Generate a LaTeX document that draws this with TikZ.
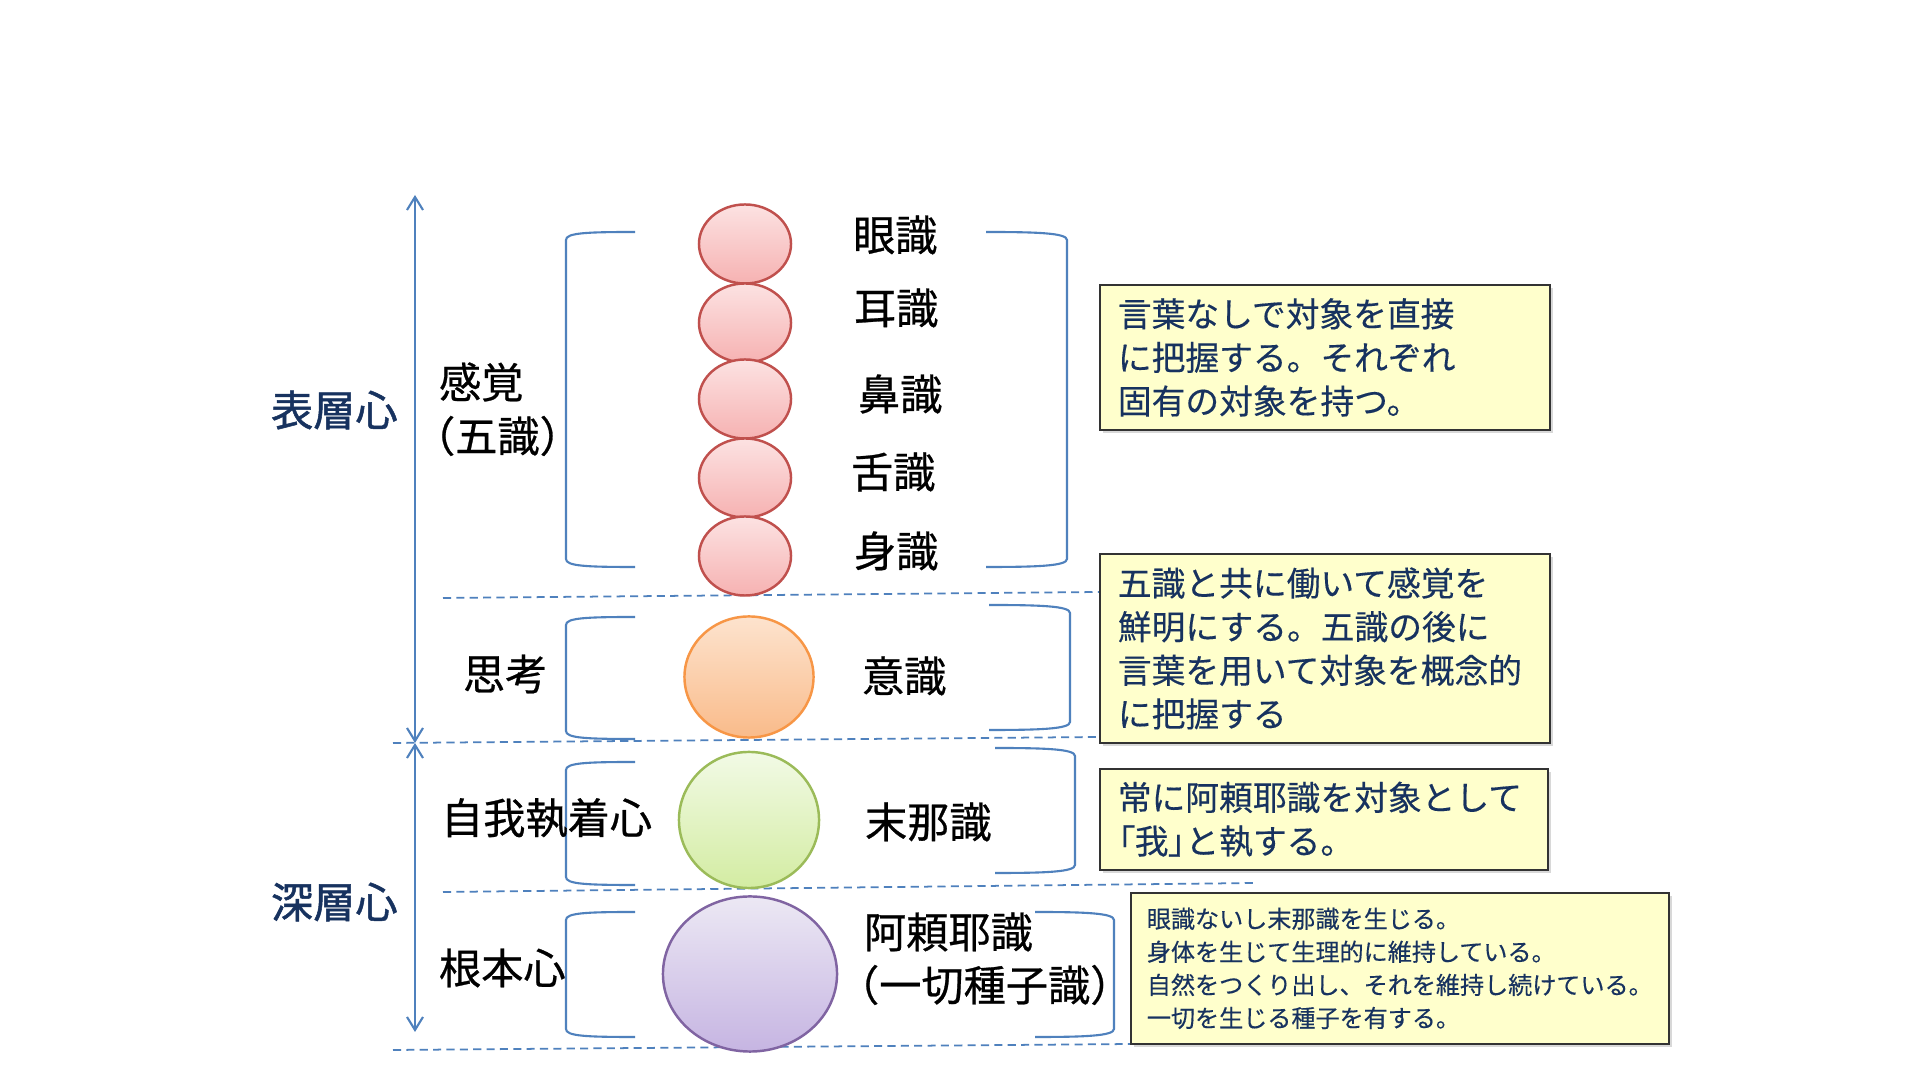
\documentclass[tikz,border=0pt]{standalone}
\usepackage{fontspec}
\setmainfont{Noto Sans CJK JP}
\newfontfamily\medfont{Noto Sans CJK JP}[FakeBold=0.6]
\newfontfamily\heavyfont{Noto Sans CJK JP}[FakeBold=1.2]
\newfontfamily\notefont{Noto Sans CJK JP}[FakeBold=0.3]
\usetikzlibrary{arrows.meta, shapes.geometric, shadows}
\definecolor{cline}{HTML}{4F81BD}
\definecolor{cnavy}{HTML}{17325F}
\definecolor{cnote}{HTML}{FFFFCC}
\definecolor{pinkedge}{HTML}{C0504D}
\definecolor{pinktop}{HTML}{FCE2E2}
\definecolor{pinkbot}{HTML}{F6B2B2}
\definecolor{orangeedge}{HTML}{F79646}
\definecolor{orangetop}{HTML}{FDE3CE}
\definecolor{orangebot}{HTML}{F9BB8A}
\definecolor{greenedge}{HTML}{9BBB59}
\definecolor{greentop}{HTML}{F2FAE6}
\definecolor{greenbot}{HTML}{D3ECA2}
\definecolor{purpleedge}{HTML}{8064A2}
\definecolor{purpletop}{HTML}{ECE8F4}
\definecolor{purplebot}{HTML}{C6B5E2}
\tikzset{
  every picture/.style={line width=0.6pt},
  span/.style={draw=cline, line width=0.6pt},
  bothway/.style={{Straight Barb[length=1.3mm,width=1.6mm]}-{Straight Barb[length=1.3mm,width=1.6mm]}},
  sep/.style={draw=cline, line width=0.5pt, dash pattern=on 2.3pt off 1.5pt},
  orb/.style={ellipse, inner sep=0pt, draw=#1edge, line width=0.7pt, top color=#1top, bottom color=#1bot},
  term/.style={anchor=west, inner sep=0pt, font=\medfont\fontsize{12pt}{14pt}\selectfont},
  layer/.style={term, text=cnavy, font=\heavyfont\fontsize{12pt}{14pt}\selectfont},
  note/.style={draw=black!80, line width=0.5pt, fill=cnote, anchor=north west, align=left, text=cnavy,
    inner xsep=0.18cm, inner ysep=0pt, font=\notefont\fontsize{9.6pt}{12.4pt}\selectfont,
    drop shadow={shadow xshift=0.03cm, shadow yshift=-0.03cm, opacity=0.3}},
}

\begin{document}
\begin{tikzpicture}[x=0.01cm, y=-0.01cm]
  \useasboundingbox[fill=white] (0,0) rectangle (1920,1080);

  % surface / deep axis
  \coordinate (surf-top) at (415,195);
  \coordinate (split) at (415,743);
  \coordinate (deep-bot) at (415,1032);
  \draw[span, bothway] (surf-top) -- (split);
  \draw[span, bothway] (split) -- (deep-bot);
  \node[layer] (surface) at (270,410) {表層心};
  \node[layer] (deep) at (270,902) {深層心};

  % level separators
  \draw[sep] (443,598) -- (1100,592);
  \draw[sep] (393,743) -- (1098,737);
  \draw[sep] (443,892) -- (1256,883);
  \draw[sep] (393,1050) -- (1256,1043);

  % brackets
  \foreach \ya/\yb in {232/567, 617/739, 762/885, 912/1037}
    \draw[span] (635,\ya) .. controls (585,\ya) and (566,\ya+1) .. (566,\ya+8) -- (566,\yb-8) .. controls (566,\yb-1) and (585,\yb) .. (635,\yb);
  \foreach \xa/\xb/\ya/\yb in {986/1067/232/567, 989/1070/605/730, 995/1075/748/873, 1035/1114/912/1037}
    \draw[span] (\xa,\ya) .. controls (\xb-30,\ya) and (\xb,\ya+1) .. (\xb,\ya+8) -- (\xb,\yb-8) .. controls (\xb,\yb-1) and (\xb-30,\yb) .. (\xa,\yb);

  % the eight consciousnesses
  \foreach \n/\y in {eye/244, ear/323, nose/399, tongue/478, body/556}
    \node[orb=pink, minimum width=0.92cm, minimum height=0.79cm] (\n) at (745,\y) {};
  \node[orb=orange, minimum width=1.29cm, minimum height=1.21cm] (mind) at (749,677) {};
  \node[orb=green, minimum width=1.40cm, minimum height=1.36cm] (manas) at (749,820) {};
  \node[orb=purple, minimum width=1.74cm, minimum height=1.55cm] (alaya) at (750,974) {};

  \foreach \n/\txt/\x/\y in {eye/眼識/852/235, ear/耳識/853/308, nose/鼻識/857/394, tongue/舌識/850/472, body/身識/853/551}
    \node[term] (t-\n) at (\x,\y) {\txt};
  \node[term] (t-mind) at (861,676) {意識};
  \node[term] (t-manas) at (864,822) {末那識};
  \node[term] (t-alaya) at (863,932) {阿頼耶識};
  \node[term] (t-seed) at (836,985) {（一切種子識）};

  % group names
  \node[term] (g-sense) at (438,382) {感覚};
  \node[term] (g-five) at (412,436) {（五識）};
  \node[term] (g-think) at (462,674) {思考};
  \node[term] (g-self) at (440,818) {自我執着心};
  \node[term] (g-root) at (438,968) {根本心};

  % notes
  \node[note, minimum width=4.5cm, minimum height=1.45cm, text width=4.14cm] (n-sense) at (1099,284)
    {言葉なしで対象を直接\\に把握する。それぞれ\\固有の対象を持つ。};
  \node[note, minimum width=4.5cm, minimum height=1.89cm, text width=4.14cm] (n-mind) at (1099,553)
    {五識と共に働いて感覚を\\鮮明にする。五識の後に\\言葉を用いて対象を概念的\\に把握する};
  \node[note, minimum width=4.48cm, minimum height=1.01cm, text width=4.12cm] (n-manas) at (1099,768)
    {常に阿頼耶識を対象として\\{\addfontfeature{RawFeature=+palt}「我」}と執する。};
  \node[note, inner xsep=0.16cm, minimum width=5.38cm, minimum height=1.51cm, text width=5.06cm,
    font=\notefont\fontsize{6.85pt}{9.4pt}\selectfont] (n-alaya) at (1130,892)
    {眼識ないし末那識を生じる。\\身体を生じて生理的に維持している。\\自然をつくり出し、それを維持し続けている。\\一切を生じる種子を有する。};
\end{tikzpicture}
\end{document}
